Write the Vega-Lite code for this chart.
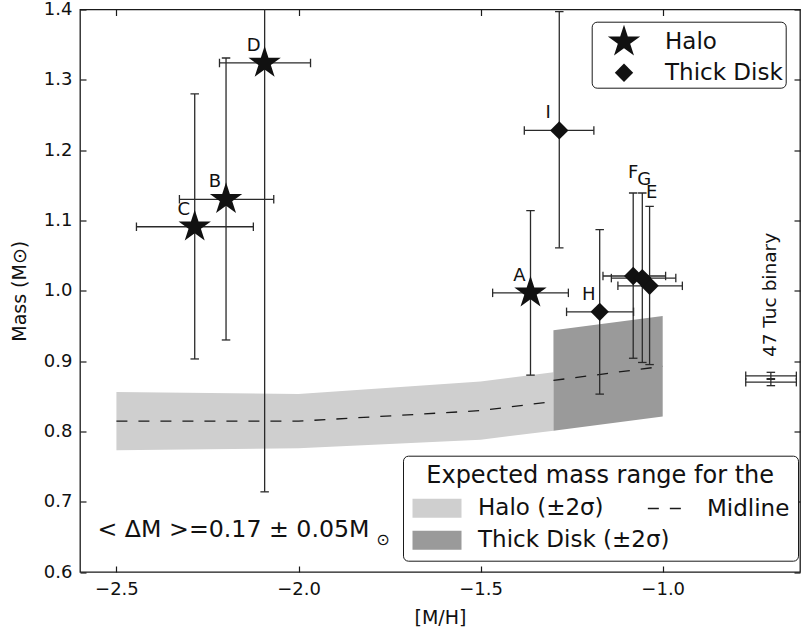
{
  "$schema": "https://vega.github.io/schema/vega-lite/v6.json",
  "width": 720,
  "height": 562.5,
  "autosize": {"type": "none"},
  "padding": {"left": 80, "top": 9.5, "right": 1, "bottom": 65},
  "background": "white",
  "datasets": {
    "stars": [
      {"id": "A", "group": "Halo", "x": -1.363, "y": 0.997, "xlo": -1.467, "xhi": -1.259, "ylo": 0.880, "yhi": 1.114},
      {"id": "B", "group": "Halo", "x": -2.199, "y": 1.130, "xlo": -2.327, "xhi": -2.068, "ylo": 0.930, "yhi": 1.331},
      {"id": "C", "group": "Halo", "x": -2.285, "y": 1.091, "xlo": -2.445, "xhi": -2.124, "ylo": 0.903, "yhi": 1.280},
      {"id": "D", "group": "Halo", "x": -2.093, "y": 1.324, "xlo": -2.217, "xhi": -1.967, "ylo": 0.714, "yhi": 1.934},
      {"id": "E", "group": "Thick Disk", "x": -1.036, "y": 1.007, "xlo": -1.123, "xhi": -0.946, "ylo": 0.895, "yhi": 1.120},
      {"id": "F", "group": "Thick Disk", "x": -1.081, "y": 1.021, "xlo": -1.164, "xhi": -0.992, "ylo": 0.904, "yhi": 1.139},
      {"id": "G", "group": "Thick Disk", "x": -1.056, "y": 1.018, "xlo": -1.141, "xhi": -0.964, "ylo": 0.898, "yhi": 1.139},
      {"id": "H", "group": "Thick Disk", "x": -1.173, "y": 0.970, "xlo": -1.264, "xhi": -1.080, "ylo": 0.853, "yhi": 1.087},
      {"id": "I", "group": "Thick Disk", "x": -1.284, "y": 1.228, "xlo": -1.380, "xhi": -1.189, "ylo": 1.061, "yhi": 1.397},
      {"id": "T1", "group": "47 Tuc", "x": -0.703, "y": 0.879, "xlo": -0.772, "xhi": -0.633, "ylo": 0.874, "yhi": 0.884},
      {"id": "T2", "group": "47 Tuc", "x": -0.703, "y": 0.870, "xlo": -0.772, "xhi": -0.633, "ylo": 0.865, "yhi": 0.875}
    ],
    "bands": [
      {"series": "Halo (±2σ)", "x": -2.5, "lo": 0.773, "hi": 0.856},
      {"series": "Halo (±2σ)", "x": -2.0, "lo": 0.776, "hi": 0.853},
      {"series": "Halo (±2σ)", "x": -1.5, "lo": 0.788, "hi": 0.871},
      {"series": "Halo (±2σ)", "x": -1.3, "lo": 0.801, "hi": 0.884},
      {"series": "Thick Disk (±2σ)", "x": -1.3, "lo": 0.801, "hi": 0.944},
      {"series": "Thick Disk (±2σ)", "x": -1.0, "lo": 0.821, "hi": 0.964}
    ],
    "mid": [
      {"series": "Midline", "part": "halo", "x": -2.5, "y": 0.8145},
      {"series": "Midline", "part": "halo", "x": -2.0, "y": 0.8145},
      {"series": "Midline", "part": "halo", "x": -1.5, "y": 0.8295},
      {"series": "Midline", "part": "halo", "x": -1.3, "y": 0.8425},
      {"series": "Midline", "part": "thick", "x": -1.3, "y": 0.8725},
      {"series": "Midline", "part": "thick", "x": -1.0, "y": 0.8925}
    ]
  },
  "config": {
    "font": "DejaVu Sans",
    "view": {"stroke": "#1a1a1a", "strokeWidth": 1.3},
    "axis": {
      "grid": false,
      "domain": false,
      "tickSize": -6,
      "tickColor": "#1a1a1a",
      "tickWidth": 1.2,
      "labelFont": "DejaVu Sans",
      "labelFontSize": 18,
      "labelColor": "#111111",
      "titleFont": "DejaVu Sans",
      "titleFontSize": 19,
      "titleFontWeight": "normal",
      "titleColor": "#111111"
    }
  },
  "layer": [
    {
      "data": {"name": "bands"},
      "mark": {"type": "area", "opacity": 1},
      "encoding": {
        "x": {"field": "x", "type": "quantitative", "scale": {"domain": [-2.6, -0.623], "nice": false, "zero": false},
              "axis": {"orient": "bottom", "title": "[M/H]", "values": [-2.5, -2.0, -1.5, -1.0], "format": ".1f", "labelPadding": 14, "titlePadding": 10}},
        "y": {"field": "lo", "type": "quantitative", "scale": {"domain": [0.6, 1.4], "nice": false, "zero": false},
              "axis": {"orient": "left", "title": "Mass (M⊙)", "values": [0.6, 0.7, 0.8, 0.9, 1.0, 1.1, 1.2, 1.3, 1.4], "format": ".1f", "labelPadding": 14, "titlePadding": 14}},
        "y2": {"field": "hi"},
        "color": {
          "field": "series", "type": "nominal",
          "scale": {"domain": ["Halo (±2σ)", "Thick Disk (±2σ)"], "range": ["#cfcfcf", "#9a9a9a"]},
          "legend": {
            "title": "\u200b\u00a0\u00a0Expected mass range for the\u00a0\u00a0\u200b",
            "orient": "none", "legendX": 323, "legendY": 446.2,
            "symbolType": "M-2.45,-0.95L2.45,-0.95L2.45,0.95L-2.45,0.95Z", "symbolSize": 400, "symbolStrokeWidth": 0, "symbolOpacity": 1,
            "symbolOffset": 14.5, "labelOffset": 29.5, "rowPadding": 8,
            "labelFont": "DejaVu Sans", "labelFontSize": 23, "labelColor": "#111111", "labelLimit": 1000,
            "titleFont": "DejaVu Sans", "titleFontSize": 24, "titleFontWeight": "normal", "titleColor": "#111111", "titleLimit": 1000,
            "titleAnchor": "start", "titlePadding": 9,
            "strokeColor": "#1a1a1a", "fillColor": "white", "cornerRadius": 5, "padding": 8
          }
        }
      }
    },
    {
      "data": {"name": "mid"},
      "mark": {"type": "line", "strokeWidth": 1.3, "color": "#1a1a1a"},
      "encoding": {
        "x": {"field": "x", "type": "quantitative", "scale": {"domain": [-2.6, -0.623], "nice": false, "zero": false}, "axis": null},
        "y": {"field": "y", "type": "quantitative", "scale": {"domain": [0.6, 1.4], "nice": false, "zero": false}, "axis": null},
        "strokeDash": {
          "field": "series", "type": "nominal",
          "scale": {"domain": ["Midline"], "range": [[11, 11]]},
          "legend": {
            "title": null,
            "orient": "none", "legendX": 559, "legendY": 473.5,
            "symbolType": "M-0.68,0L0.68,0", "symbolSize": 2401, "symbolStrokeWidth": 1.5, "symbolStrokeColor": "#1a1a1a",
            "labelOffset": 17,
            "labelFont": "DejaVu Sans", "labelFontSize": 23, "labelColor": "#111111", "labelLimit": 1000,
            "padding": 0
          }
        },
        "detail": {"field": "part"}
      }
    },
    {
      "data": {"name": "stars"},
      "mark": {"type": "rule", "clip": true, "color": "#2a2a2a", "strokeWidth": 1.3},
      "encoding": {
        "x": {"field": "x", "type": "quantitative", "axis": null},
        "y": {"field": "ylo", "type": "quantitative", "axis": null},
        "y2": {"field": "yhi"}
      }
    },
    {
      "data": {"name": "stars"},
      "mark": {"type": "rule", "clip": true, "color": "#2a2a2a", "strokeWidth": 1.3},
      "encoding": {
        "y": {"field": "y", "type": "quantitative", "axis": null},
        "x": {"field": "xlo", "type": "quantitative", "axis": null},
        "x2": {"field": "xhi"}
      }
    },
    {
      "data": {"name": "stars"},
      "mark": {"type": "tick", "orient": "horizontal", "clip": true, "color": "#2a2a2a", "thickness": 1.3, "size": 8.5, "opacity": 1},
      "encoding": {
        "x": {"field": "x", "type": "quantitative", "axis": null},
        "y": {"field": "ylo", "type": "quantitative", "axis": null}
      }
    },
    {
      "data": {"name": "stars"},
      "mark": {"type": "tick", "orient": "horizontal", "clip": true, "color": "#2a2a2a", "thickness": 1.3, "size": 8.5, "opacity": 1},
      "encoding": {
        "x": {"field": "x", "type": "quantitative", "axis": null},
        "y": {"field": "yhi", "type": "quantitative", "axis": null}
      }
    },
    {
      "data": {"name": "stars"},
      "mark": {"type": "tick", "orient": "vertical", "clip": true, "color": "#2a2a2a", "thickness": 1.3, "size": 8.5, "opacity": 1},
      "encoding": {
        "x": {"field": "xlo", "type": "quantitative", "axis": null},
        "y": {"field": "y", "type": "quantitative", "axis": null}
      }
    },
    {
      "data": {"name": "stars"},
      "mark": {"type": "tick", "orient": "vertical", "clip": true, "color": "#2a2a2a", "thickness": 1.3, "size": 8.5, "opacity": 1},
      "encoding": {
        "x": {"field": "xhi", "type": "quantitative", "axis": null},
        "y": {"field": "y", "type": "quantitative", "axis": null}
      }
    },
    {
      "data": {"name": "stars"},
      "transform": [{"filter": "datum.group !== '47 Tuc'"}],
      "mark": {"type": "point", "filled": true, "color": "#111111", "opacity": 1, "size": 1156, "strokeWidth": 0},
      "encoding": {
        "x": {"field": "x", "type": "quantitative", "axis": {"orient": "top", "labels": false, "title": null, "values": [-2.5, -2.0, -1.5, -1.0]}},
        "y": {"field": "y", "type": "quantitative", "axis": {"orient": "right", "labels": false, "title": null, "values": [0.6, 0.7, 0.8, 0.9, 1.0, 1.1, 1.2, 1.3, 1.4]}},
        "shape": {
          "field": "group", "type": "nominal",
          "scale": {"domain": ["Halo", "Thick Disk"], "range": ["M0,-1L0.2245,-0.309L0.9511,-0.309L0.3633,0.118L0.5878,0.809L0,0.382L-0.5878,0.809L-0.3633,0.118L-0.9511,-0.309L-0.2245,-0.309Z", "M0,-0.54L0.54,0L0,0.54L-0.54,0Z"]},
          "legend": {
            "title": null,
            "orient": "none", "legendX": 511.7, "legendY": 12.2,
            "symbolSize": 1156, "symbolOffset": 12.3, "labelOffset": 24,
            "symbolFillColor": "#111111", "symbolStrokeWidth": 0, "symbolOpacity": 1,
            "labelFont": "DejaVu Sans", "labelFontSize": 23, "labelColor": "#111111", "labelLimit": 1000,
            "rowPadding": -1,
            "strokeColor": "#1a1a1a", "fillColor": "white", "cornerRadius": 5, "padding": 3
          }
        }
      }
    },
    {
      "data": {"name": "stars"},
      "transform": [{"filter": "datum.group !== '47 Tuc' && datum.id !== 'E' && datum.id !== 'F' && datum.id !== 'G'"}],
      "mark": {"type": "text", "font": "DejaVu Sans", "fontSize": 18, "color": "#111111", "align": "center", "baseline": "middle", "dx": -11, "dy": -17},
      "encoding": {
        "x": {"field": "x", "type": "quantitative", "axis": null},
        "y": {"field": "y", "type": "quantitative", "axis": null},
        "text": {"field": "id"}
      }
    },
    {
      "data": {"name": "stars"},
      "transform": [{"filter": "datum.id === 'F'"}],
      "mark": {"type": "text", "font": "DejaVu Sans", "fontSize": 18, "color": "#111111", "align": "center", "baseline": "bottom", "dx": 0, "dy": -11},
      "encoding": {
        "x": {"field": "x", "type": "quantitative", "axis": null},
        "y": {"field": "yhi", "type": "quantitative", "axis": null},
        "text": {"field": "id"}
      }
    },
    {
      "data": {"name": "stars"},
      "transform": [{"filter": "datum.id === 'E' || datum.id === 'G'"}],
      "mark": {"type": "text", "font": "DejaVu Sans", "fontSize": 18, "color": "#111111", "align": "center", "baseline": "bottom", "dx": 2, "dy": -4},
      "encoding": {
        "x": {"field": "x", "type": "quantitative", "axis": null},
        "y": {"field": "yhi", "type": "quantitative", "axis": null},
        "text": {"field": "id"}
      }
    },
    {
      "data": {"values": [{"note": "47 Tuc binary"}]},
      "mark": {"type": "text", "font": "DejaVu Sans", "fontSize": 18.5, "color": "#111111", "align": "center", "baseline": "middle", "angle": 270},
      "encoding": {
        "x": {"datum": -0.705, "type": "quantitative", "axis": null},
        "y": {"datum": 0.994, "type": "quantitative", "axis": null},
        "text": {"field": "note"}
      }
    },
    {
      "data": {"values": [{"note": "< ΔM >=0.17 ± 0.05M"}]},
      "mark": {"type": "text", "font": "DejaVu Sans", "fontSize": 23.7, "color": "#111111", "align": "left", "baseline": "alphabetic"},
      "encoding": {
        "x": {"datum": -2.552, "type": "quantitative", "axis": null},
        "y": {"datum": 0.650, "type": "quantitative", "axis": null},
        "text": {"field": "note"}
      }
    },
    {
      "data": {"values": [{"note": "⊙"}]},
      "mark": {"type": "text", "font": "DejaVu Sans", "fontSize": 16, "color": "#111111", "align": "center", "baseline": "middle"},
      "encoding": {
        "x": {"datum": -1.768, "type": "quantitative", "axis": null},
        "y": {"datum": 0.646, "type": "quantitative", "axis": null},
        "text": {"field": "note"}
      }
    }
  ]
}
